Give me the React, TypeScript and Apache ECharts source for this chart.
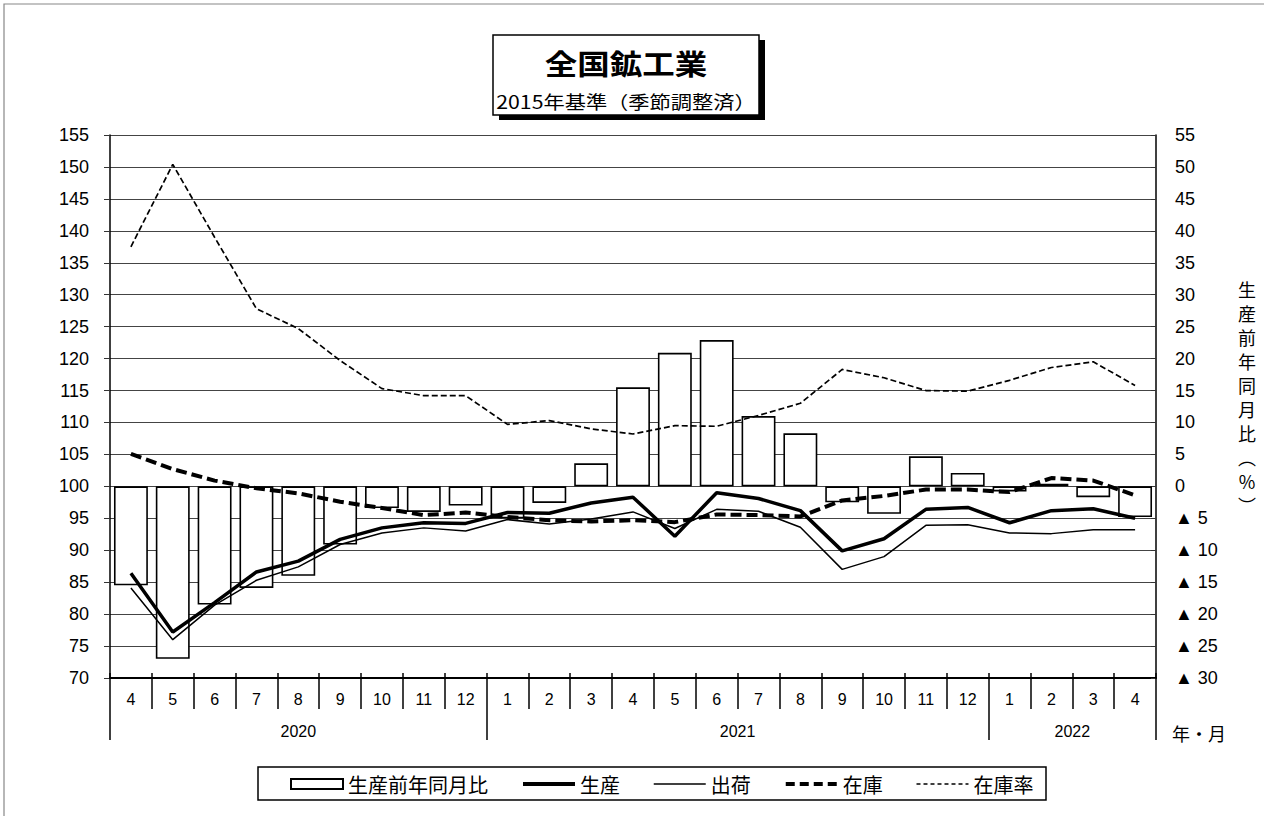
import React, { useEffect, useRef } from 'react';
import * as echarts from 'echarts';

const months = ['4','5','6','7','8','9','10','11','12','1','2','3','4','5','6','7','8','9','10','11','12','1','2','3','4'];
const yearLabels = ['2020', '2021', '2022'];
const yearLabelPos = [4.5, 15, 23];
const yearBounds = [0, 9, 21, 25];

const yoyChange = [-15.5,-27.0,-18.5,-15.9,-14.0,-9.1,-3.4,-4.0,-3.0,-5.0,-2.6,3.6,15.5,20.9,22.9,11.0,8.3,-2.5,-4.3,4.7,2.1,-0.8,0.4,-1.7,-4.8];
const production = [86.4,77.2,81.8,86.6,88.3,91.7,93.5,94.3,94.2,95.9,95.8,97.4,98.3,92.2,99.0,98.1,96.2,89.9,91.8,96.4,96.7,94.3,96.2,96.5,95.0];
const shipments = [84.1,76.0,81.4,85.3,87.4,90.9,92.7,93.5,93.0,94.8,94.1,94.9,96.0,93.4,96.4,96.1,93.6,87.0,89.0,93.9,94.0,92.7,92.6,93.2,93.2];
const inventory = [105.1,102.7,100.9,99.7,98.9,97.6,96.6,95.5,95.9,95.2,94.7,94.5,94.7,94.4,95.6,95.5,95.3,97.8,98.5,99.5,99.5,99.1,101.3,100.9,98.6];
const inventoryRatio = [137.5,150.4,139.0,127.8,124.7,119.7,115.3,114.2,114.2,109.7,110.3,109.0,108.2,109.5,109.4,111.1,113.0,118.3,117.0,115.0,114.9,116.6,118.6,119.5,115.8];

const seriesNames = ['生産前年同月比', '生産', '出荷', '在庫', '在庫率'];

const NUM_FONT = '"Liberation Sans", Arial, "Noto Sans CJK JP", sans-serif';
const CJK_FONT = '"Noto Sans CJK JP", "Liberation Sans", sans-serif';

export default function App() {
  const ref = useRef<HTMLDivElement>(null);
  useEffect(() => {
    const chart = echarts.init(ref.current as HTMLDivElement, null, { renderer: 'svg' });
    const hideSymbol = { opacity: 0 };
    const option: any = {
      animation: false,
      backgroundColor: '#ffffff',
      grid: { left: 110, right: 108, top: 135, bottom: 138, containLabel: false },
      legend: {
        left: 285,
        top: 769,
        itemWidth: 52,
        itemHeight: 10,
        itemGap: 33,
        textStyle: { fontSize: 20, color: '#000', fontFamily: CJK_FONT },
        data: [
          { name: seriesNames[0], icon: 'rect' },
          { name: seriesNames[1], itemStyle: hideSymbol, lineStyle: { width: 4, color: '#000' } },
          { name: seriesNames[2], itemStyle: hideSymbol, lineStyle: { width: 1.5, color: '#000' } },
          { name: seriesNames[3], itemStyle: hideSymbol, lineStyle: { width: 4, color: '#000', type: [9, 5] } },
          { name: seriesNames[4], itemStyle: hideSymbol, lineStyle: { width: 1.5, color: '#000', type: [4, 3] } },
        ],
      },
      xAxis: [
        {
          type: 'category',
          data: months,
          position: 'bottom',
          boundaryGap: true,
          axisLine: { show: true, onZero: false, lineStyle: { color: '#000', width: 2 } },
          axisTick: { show: true, interval: 0, length: 31, inside: false, lineStyle: { color: '#000', width: 1.5 } },
          axisLabel: { interval: 0, margin: 13, fontSize: 16, color: '#000', fontFamily: NUM_FONT },
          splitLine: { show: false },
        },
        {
          type: 'value',
          min: 0,
          max: 25,
          position: 'bottom',
          offset: 31,
          axisLine: { show: false, onZero: false },
          axisTick: { show: true, customValues: yearBounds, length: 31, inside: false, lineStyle: { color: '#000', width: 1.5 } },
          axisLabel: {
            customValues: yearLabelPos,
            margin: 14,
            fontSize: 16,
            color: '#000',
            fontFamily: NUM_FONT,
            formatter: (v: number) => yearLabels[yearLabelPos.indexOf(v)] ?? '',
          },
          splitLine: { show: false },
        },
        {
          type: 'category',
          data: months,
          position: 'bottom',
          boundaryGap: true,
          axisLine: { show: false, onZero: false },
          axisTick: { show: true, interval: 0, length: 5, inside: true, lineStyle: { color: '#000', width: 1.5 } },
          axisLabel: { show: false },
          splitLine: { show: false },
        },
      ],
      yAxis: [
        {
          type: 'value',
          min: 70,
          max: 155,
          interval: 5,
          position: 'left',
          axisLine: { show: true, onZero: false, lineStyle: { color: '#000', width: 1.5 } },
          axisTick: { show: true, length: 6, inside: false, lineStyle: { color: '#333' } },
          axisLabel: { margin: 21, fontSize: 18, color: '#000', fontFamily: NUM_FONT },
          splitLine: { show: true, lineStyle: { color: '#444', width: 1 } },
        },
        {
          type: 'value',
          min: -30,
          max: 55,
          interval: 5,
          position: 'right',
          axisLine: { show: true, onZero: false, lineStyle: { color: '#000', width: 1.5 } },
          axisTick: { show: true, length: 5, inside: true, lineStyle: { color: '#333' } },
          axisLabel: {
            margin: 19,
            fontSize: 18,
            color: '#000',
            fontFamily: NUM_FONT,
            formatter: (v: number) => (v < 0 ? '▲ ' + Math.abs(v) : String(v)),
          },
          splitLine: { show: false },
        },
      ],
      series: [
        {
          name: seriesNames[0],
          type: 'bar',
          xAxisIndex: 0,
          yAxisIndex: 1,
          barWidth: '81%',
          data: yoyChange,
          itemStyle: { color: '#ffffff', borderColor: '#000', borderWidth: 1.6 },
          z: 2,
        },
        {
          name: seriesNames[1],
          type: 'line',
          xAxisIndex: 0,
          yAxisIndex: 0,
          data: production,
          symbol: 'none',
          lineStyle: { color: '#000', width: 3.5 },
          itemStyle: { color: '#000' },
          z: 5,
        },
        {
          name: seriesNames[2],
          type: 'line',
          xAxisIndex: 0,
          yAxisIndex: 0,
          data: shipments,
          symbol: 'none',
          lineStyle: { color: '#000', width: 1.5 },
          itemStyle: { color: '#000' },
          z: 4,
        },
        {
          name: seriesNames[3],
          type: 'line',
          xAxisIndex: 0,
          yAxisIndex: 0,
          data: inventory,
          symbol: 'none',
          lineStyle: { color: '#000', width: 4, type: [11, 5] },
          itemStyle: { color: '#000' },
          z: 4,
        },
        {
          name: seriesNames[4],
          type: 'line',
          xAxisIndex: 0,
          yAxisIndex: 0,
          data: inventoryRatio,
          symbol: 'none',
          lineStyle: { color: '#000', width: 1.7, type: [6, 3] },
          itemStyle: { color: '#000' },
          z: 4,
        },
      ],
      graphic: [
        {
          type: 'rect',
          shape: { x: 4, y: 4, width: 1400, height: 1000 },
          style: { fill: 'none', stroke: '#888', lineWidth: 1.2 },
          silent: true,
          z: -10,
        },
        {
          type: 'rect',
          shape: { x: 499, y: 40, width: 266, height: 80 },
          style: { fill: '#000' },
          z: 10,
        },
        {
          type: 'rect',
          shape: { x: 493, y: 35, width: 266, height: 80 },
          style: { fill: '#fff', stroke: '#000', lineWidth: 1.5 },
          z: 11,
        },
        {
          type: 'text',
          x: 626,
          y: 62,
          scaleX: 1.12,
          z: 12,
          style: {
            text: '全国鉱工業',
            fontSize: 29,
            fontWeight: 'bold',
            fontFamily: CJK_FONT,
            fill: '#000',
            align: 'center',
            verticalAlign: 'middle',
          },
        },
        {
          type: 'text',
          x: 626,
          y: 101,
          scaleX: 1.18,
          z: 12,
          style: {
            text: '2015年基準（季節調整済）',
            fontSize: 18,
            fontFamily: CJK_FONT,
            fill: '#000',
            align: 'center',
            verticalAlign: 'middle',
          },
        },
        {
          type: 'rect',
          shape: { x: 258, y: 767, width: 788, height: 33 },
          style: { fill: 'none', stroke: '#000', lineWidth: 1.5 },
          z: 1,
        },
        {
          type: 'text',
          x: 1247,
          y: 277,
          z: 12,
          style: {
            text: '生\n産\n前\n年\n同\n月\n比\n︵\n%\n︶',
            fontSize: 18,
            lineHeight: 24,
            fontFamily: CJK_FONT,
            fill: '#000',
            align: 'center',
            verticalAlign: 'top',
          },
        },
        {
          type: 'text',
          x: 1172,
          y: 733,
          z: 12,
          style: {
            text: '年・月',
            fontSize: 18,
            fontFamily: CJK_FONT,
            fill: '#000',
            align: 'left',
            verticalAlign: 'middle',
          },
        },
      ],
    };
    chart.setOption(option);
    return () => chart.dispose();
  }, []);
  return (
    <div
      ref={ref}
      style={{ position: 'absolute', left: 0, top: 0, width: 1264, height: 816, background: '#fff' }}
    />
  );
}
